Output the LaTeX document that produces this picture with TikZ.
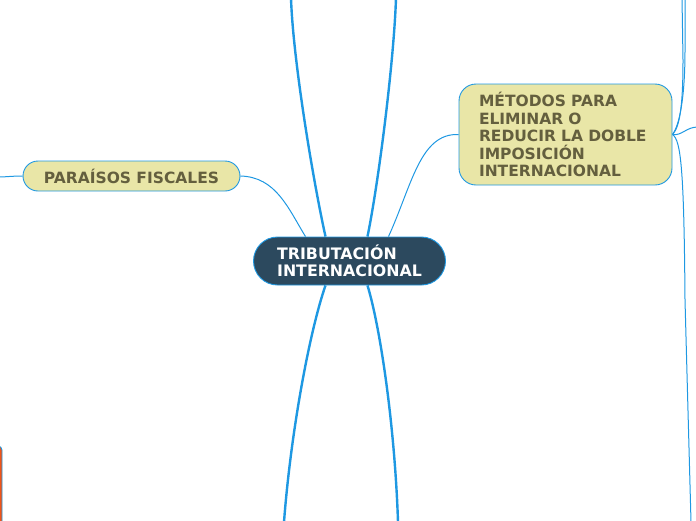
\documentclass[tikz,border=0pt]{standalone}
\usepackage{fontspec}
\setmainfont{DejaVu Sans}
\usetikzlibrary{backgrounds}
\definecolor{linkblue}{RGB}{30,152,226}
\definecolor{topicfill}{RGB}{233,230,167}
\definecolor{topictext}{RGB}{100,95,62}
\definecolor{centerfill}{RGB}{44,73,94}
\definecolor{orangebar}{RGB}{242,84,22}
\tikzset{
  topic/.style={draw=linkblue, line width=0.9pt, fill=topicfill, text=topictext,
    font=\fontsize{15.5}{17.5}\selectfont\bfseries},
  central/.style={draw=linkblue, line width=0.9pt, fill=centerfill, text=white,
    font=\fontsize{15.8}{17.5}\selectfont\bfseries, align=left,
    minimum width=192pt, minimum height=48pt, rounded corners=24pt, inner sep=0pt},
  thick link/.style={draw=linkblue, line width=2.4pt},
  thin link/.style={draw=linkblue, line width=1pt},
}
\begin{document}
\begin{tikzpicture}[x=1pt,y=-1pt]
\useasboundingbox (0,0) rectangle (696,520);
\clip (0,0) rectangle (696,520);

% central node
\node[central] (c) at (349.5,261) {TRIBUTACIÓN\\INTERNACIONAL};

% main topics
\node[topic, minimum width=217pt, minimum height=30pt, rounded corners=15pt, inner sep=0pt]
  (par) at (131.5,176) {PARAÍSOS FISCALES};
\node[topic, minimum width=213pt, minimum height=101pt, rounded corners=17pt,
  inner xsep=20pt, inner ysep=0pt, text width=173pt, align=left]
  (met) at (565.5,134.5) {MÉTODOS PARA\\ELIMINAR O\\REDUCIR LA DOBLE\\IMPOSICIÓN\\INTERNACIONAL};

% partially visible node at the lower left edge
\node[draw=linkblue, line width=0.9pt, fill=orangebar, rounded corners=4pt,
  minimum width=60pt, minimum height=120pt, inner sep=0pt] (ob) at (-28,506) {};

% off-canvas end points
\coordinate (t1) at (291,-2);
\coordinate (t2) at (396,-2);
\coordinate (b1) at (284,522);
\coordinate (b2) at (398,522);
\coordinate (pl) at (-2,177);
\coordinate (r1) at (682,-2);
\coordinate (r2) at (685,-2);
\coordinate (r3) at (698,127);
\coordinate (r4) at (691,522);

\begin{pgfonlayer}{background}
  % thick branches from the centre
  \draw[thick link] ([xshift=-24pt]c.north) .. controls (313,180) and (293,60) .. (t1);
  \draw[thick link] ([xshift=18pt]c.north) .. controls (379,180) and (394,60) .. (t2);
  \draw[thick link] ([xshift=-24pt]c.south) .. controls (310,330) and (291,430) .. (b1);
  \draw[thick link] ([xshift=18pt]c.south) .. controls (381,330) and (395,430) .. (b2);
  % thin branches to topics
  \draw[thin link] ([xshift=-44pt]c.north) .. controls (288,208) and (276,177) .. (par.east);
  \draw[thin link] ([xshift=39pt]c.north) .. controls (412,185) and (420,133) .. (met.west);
  \draw[thin link] (par.west) .. controls (12,176) and (6,177) .. (pl);
  % sub-branches of the methods topic
  \draw[thin link] (met.east) .. controls (679,128) and (683,110) .. (683,60) -- (r1);
  \draw[thin link] (met.east) .. controls (679,126) and (685,100) .. (685,50) -- (r2);
  \draw[thin link] (met.east) .. controls (682,136) and (686,127) .. (r3);
  \draw[thin link] (met.east) .. controls (681,140) and (684,170) .. (685,300) -- (r4);
\end{pgfonlayer}
\end{tikzpicture}
\end{document}
